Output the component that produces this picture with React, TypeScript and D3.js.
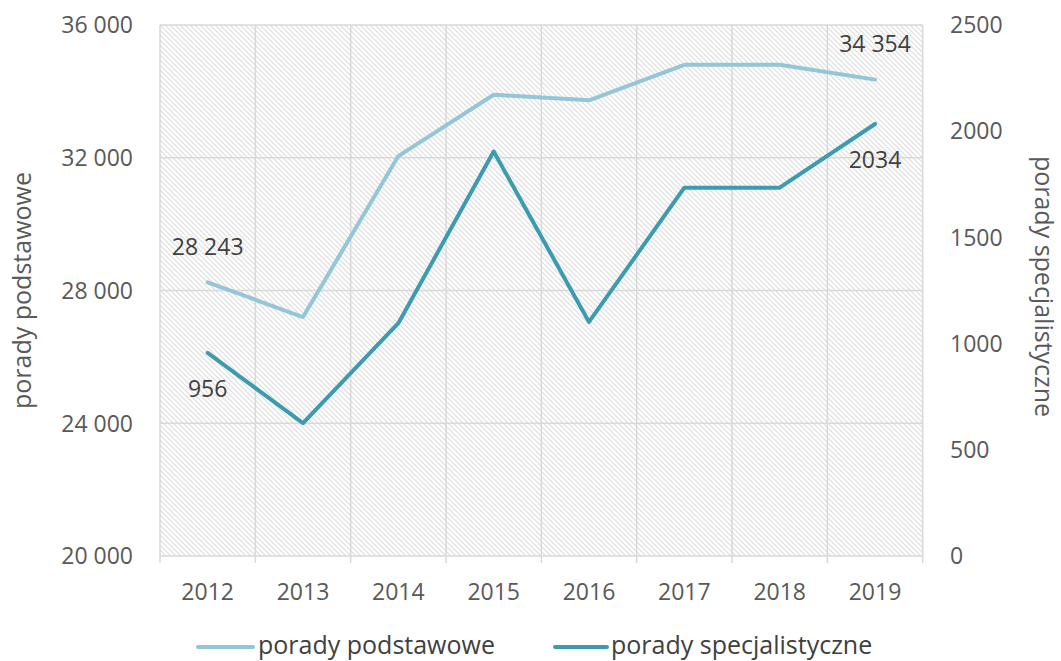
import React from "react";
import * as d3 from "d3";

const years = ["2012", "2013", "2014", "2015", "2016", "2017", "2018", "2019"];
const podstawowe = [28243, 27200, 32050, 33900, 33730, 34800, 34800, 34354];
const specjalistyczne = [956, 626, 1096, 1904, 1102, 1734, 1734, 2034];
const leftTicks = [20000, 24000, 28000, 32000, 36000];
const rightTicks = [0, 500, 1000, 1500, 2000, 2500];
const seriesNames = ["porady podstawowe", "porady specjalistyczne"];
const leftTitle = "porady podstawowe";
const rightTitle = "porady specjalistyczne";
// labelled points: [series index, point index, label text, position]
const dataLabels: [number, number, string, number][] = [
  [0, 0, "28 243", -1],
  [0, 7, "34 354", -1],
  [1, 0, "956", 1],
  [1, 7, "2034", 1],
];

const W = 1061;
const H = 661;
const L = 160;
const R = 922.7;
const T = 25;
const B = 556;
const C1 = "#93C6D7";
const C2 = "#3D9BB0";
const GRID = "#d9d9d9";
const FONT = "'Open Sans', sans-serif";

export default function App() {
  const x = d3.scaleBand<string>().domain(years).range([L, R]).padding(0);
  const yL = d3.scaleLinear().domain([20000, 36000]).range([B, T]);
  const yR = d3.scaleLinear().domain([0, 2500]).range([B, T]);
  const cx = (d: string) => (x(d) as number) + x.bandwidth() / 2;
  const fmt = (v: number) => d3.format(",")(v).replace(/,/g, " ");

  const line1 = d3
    .line<number>()
    .x((_, i) => cx(years[i]))
    .y((v) => yL(v))(podstawowe) as string;
  const line2 = d3
    .line<number>()
    .x((_, i) => cx(years[i]))
    .y((v) => yR(v))(specjalistyczne) as string;

  const boundaries = years.map((y) => x(y) as number).concat([R]);

  return (
    <svg
      width={W}
      height={H}
      style={{ position: "absolute", left: 0, top: 0, display: "block", background: "#fff" }}
      fontFamily={FONT}
    >
      <defs>
        <pattern id="hatch" patternUnits="userSpaceOnUse" width={5} height={5}>
          <rect width={5} height={5} fill="#ffffff" />
          <path d="M0,0 L5,5 M-1,4 L1,6 M4,-1 L6,1" stroke="#dedede" strokeWidth={1.2} />
        </pattern>
      </defs>
      <rect x={L} y={T} width={R - L} height={B - T} fill="url(#hatch)" />
      {leftTicks.map((t) => (
        <line key={"h" + t} x1={L} x2={R} y1={yL(t)} y2={yL(t)} stroke={GRID} strokeWidth={1.5} />
      ))}
      {boundaries.map((bx, i) => (
        <line key={"v" + i} x1={bx} x2={bx} y1={T} y2={B + 7} stroke={GRID} strokeWidth={1.5} />
      ))}
      {leftTicks.map((t) => (
        <text
          key={"lt" + t}
          x={133}
          y={yL(t)}
          dy="0.36em"
          textAnchor="end"
          fontSize={23}
          fill="#595959"
        >
          {fmt(t)}
        </text>
      ))}
      {rightTicks.map((t) => (
        <text key={"rt" + t} x={950} y={yR(t)} dy="0.36em" textAnchor="start" fontSize={23} fill="#595959">
          {t}
        </text>
      ))}
      {years.map((yv) => (
        <text key={"x" + yv} x={cx(yv)} y={600} textAnchor="middle" fontSize={23} fill="#595959">
          {yv}
        </text>
      ))}
      <text
        transform={`translate(31,${(T + B) / 2}) rotate(-90)`}
        textAnchor="middle"
        fontSize={25}
        fill="#595959"
      >
        {leftTitle}
      </text>
      <text
        transform={`translate(1035,${(T + B) / 2 - 4}) rotate(90)`}
        textAnchor="middle"
        fontSize={25}
        fill="#595959"
      >
        {rightTitle}
      </text>
      <path d={line1} fill="none" stroke={C1} strokeWidth={4} strokeLinejoin="round" strokeLinecap="round" />
      <path d={line2} fill="none" stroke={C2} strokeWidth={4} strokeLinejoin="round" strokeLinecap="round" />
      {dataLabels.map(([s, i, txt, pos]) => {
        const py = s === 0 ? yL(podstawowe[i]) : yR(specjalistyczne[i]);
        return (
          <text
            key={"dl" + s + i}
            x={cx(years[i])}
            y={py + pos * 36}
            dy="0.36em"
            textAnchor="middle"
            fontSize={23}
            fill="#404040"
          >
            {txt}
          </text>
        );
      })}
      <g>
        <line x1={198} x2={253} y1={647} y2={647} stroke={C1} strokeWidth={4} strokeLinecap="round" />
        <text x={258} y={645} dy="0.36em" fontSize={25} fill="#404040">
          {seriesNames[0]}
        </text>
        <line x1={555} x2={607} y1={647} y2={647} stroke={C2} strokeWidth={4} strokeLinecap="round" />
        <text x={611} y={645} dy="0.36em" fontSize={25} fill="#404040">
          {seriesNames[1]}
        </text>
      </g>
    </svg>
  );
}
